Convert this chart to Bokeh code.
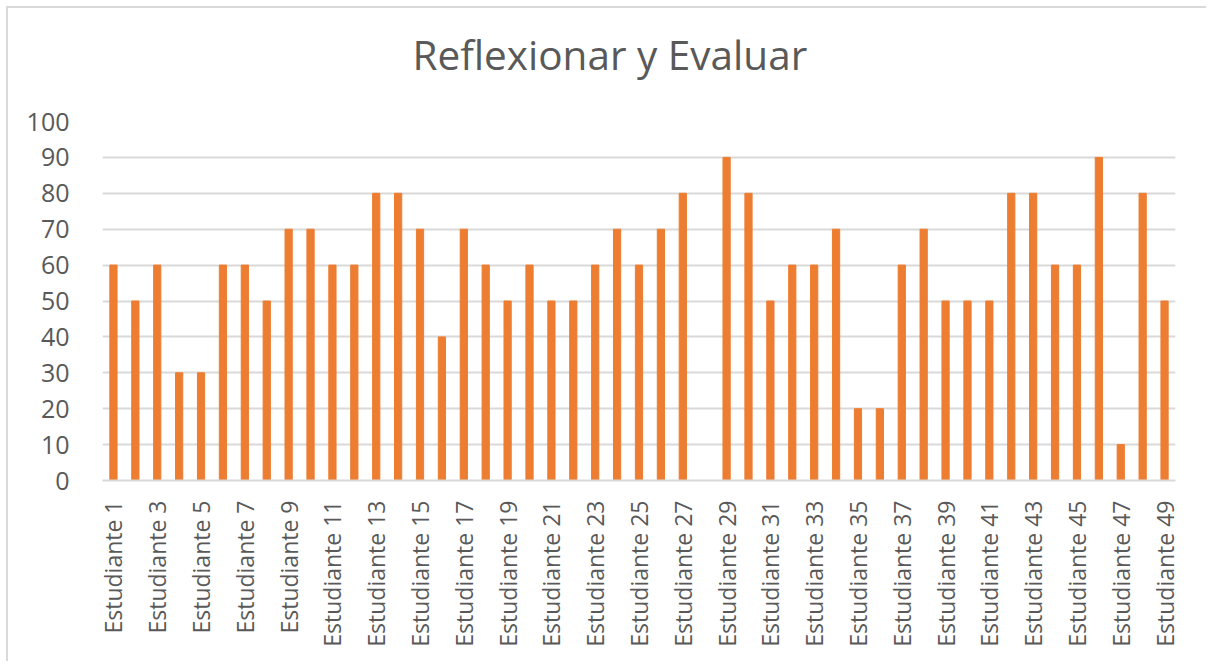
from bokeh.plotting import figure
from bokeh.models import FixedTicker, Range1d, ColumnDataSource, Title
from bokeh.embed import file_html
from bokeh.resources import INLINE

students = [f"Estudiante {i}" for i in range(1, 50)]
scores = [60, 50, 60, 30, 30, 60, 60, 50, 70, 70,
          60, 60, 80, 80, 70, 40, 70, 60, 50, 60,
          50, 50, 60, 70, 60, 70, 80, 0, 90, 80,
          50, 60, 60, 70, 20, 20, 60, 70, 50, 50,
          50, 80, 80, 60, 60, 90, 10, 80, 50]
y_ticks = [0, 10, 20, 30, 40, 50, 60, 70, 80, 90, 100]
title_text = "Reflexionar y Evaluar"

idx = list(range(1, len(students) + 1))
src = ColumnDataSource(dict(x=idx, y=scores, name=students))

p = figure(width=1200, height=655, output_backend="svg", toolbar_location=None,
           x_range=Range1d(0.5, len(students) + 0.5), y_range=Range1d(0, 100),
           min_border_left=94, min_border_right=33, min_border_top=113,
           min_border_bottom=183, title=title_text)

p.vbar(x="x", top="y", width=0.33, source=src, color="#ED7D31")

p.title.align = "left"
p.title.offset = 310
p.title.standoff = 0
p.title.text_font = "Open Sans"
p.title.text_font_size = "40.5px"
p.title.text_font_style = "normal"
p.title.text_color = "#595959"

# empty spacer between the title and the plot area
spacer = Title(text=" ", text_font_size="1px", standoff=37)
p.add_layout(spacer, "above")

p.outline_line_color = None
p.background_fill_color = "white"
p.border_fill_color = "white"

# y axis
p.yaxis.ticker = FixedTicker(ticks=y_ticks)
p.yaxis.axis_line_color = None
p.yaxis.major_tick_line_color = None
p.yaxis.minor_tick_line_color = None
p.yaxis.major_label_text_font = "Open Sans"
p.yaxis.major_label_text_font_size = "25px"
p.yaxis.major_label_text_color = "#595959"
p.yaxis.major_label_standoff = 27

# x axis
p.xaxis.ticker = FixedTicker(ticks=[i for i in idx if i % 2 == 1])
p.xaxis.major_label_overrides = {i: students[i - 1] for i in idx}
p.xaxis.major_label_orientation = 1.5707963
p.xaxis.axis_line_color = "#d9d9d9"
p.xaxis.axis_line_width = 2
p.xaxis.major_tick_line_color = None
p.xaxis.minor_tick_line_color = None
p.xaxis.major_label_text_font = "Open Sans"
p.xaxis.major_label_text_font_size = "23px"
p.xaxis.major_label_text_color = "#595959"
p.xaxis.major_label_standoff = 14

p.xgrid.grid_line_color = None
p.ygrid.grid_line_color = "#d9d9d9"
p.ygrid.grid_line_width = 2

p.styles = {"border-top": "2px solid #d9d9d9", "border-left": "2px solid #d9d9d9",
            "margin-top": "6px", "margin-left": "6px"}

open("out.html", "w").write(file_html(p, INLINE))
